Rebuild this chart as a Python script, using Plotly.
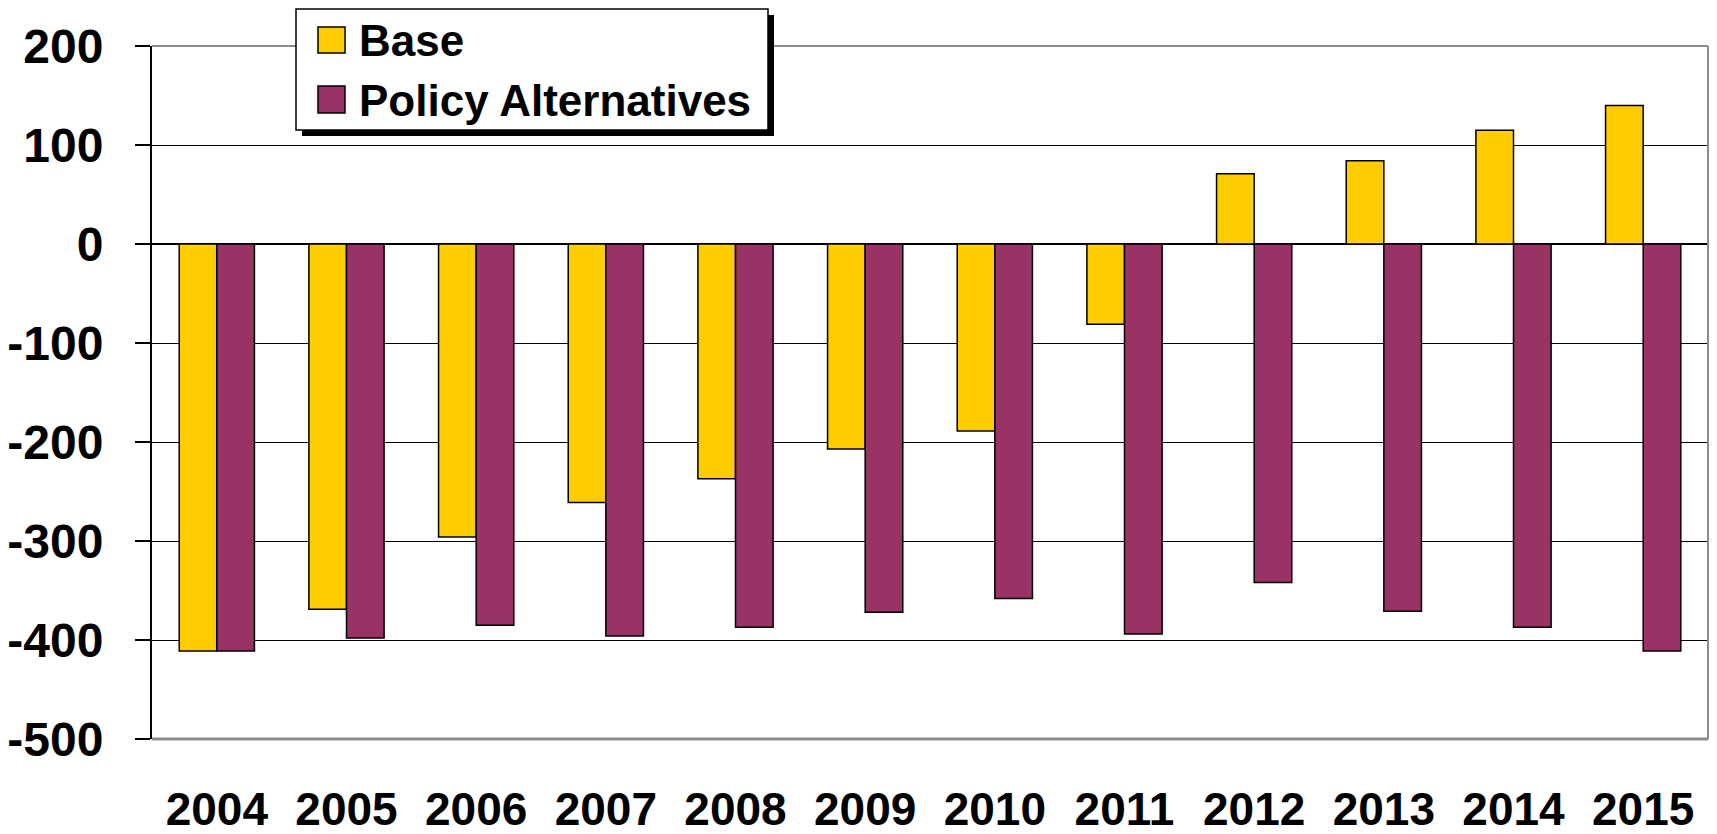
import plotly.graph_objects as go

years = ["2004", "2005", "2006", "2007", "2008", "2009", "2010", "2011", "2012", "2013", "2014", "2015"]
base = [-411, -369, -296, -261, -237, -207, -189, -81, 71, 84, 115, 140]
policy = [-411, -398, -385, -396, -387, -372, -358, -394, -342, -371, -387, -411]
series_names = ["Base", "Policy Alternatives"]
colors = ["#FFCC00", "#993366"]
y_ticks = [200, 100, 0, -100, -200, -300, -400, -500]

W, H = 1717, 834
L, R, T, B = 152, 9, 46, 95
pw, ph = W - L - R, H - T - B

def px(x):
    return (x - L) / pw

def py(y):
    return (H - B - y) / ph

fig = go.Figure()
for name, vals, col in zip(series_names, [base, policy], colors):
    fig.add_trace(go.Bar(
        x=years, y=vals, name=name, showlegend=False,
        marker=dict(color=col, line=dict(color="black", width=1.5)),
    ))

font_family = "Liberation Sans, Arial, sans-serif"

fig.update_layout(
    width=W, height=H,
    margin=dict(l=L, r=R, t=T, b=B, pad=0, autoexpand=False),
    paper_bgcolor="white", plot_bgcolor="white",
    barmode="group", bargap=0.42, bargroupgap=0,
    xaxis=dict(
        type="category", showgrid=False, zeroline=False, showline=False,
        ticks="", ticklabelstandoff=39, automargin=False,
        tickfont=dict(family=font_family, size=46, color="black", weight="bold"),
    ),
    yaxis=dict(
        range=[-500, 200], tickvals=y_ticks, ticktext=[str(v) for v in y_ticks],
        showgrid=True, gridcolor="black", gridwidth=1, automargin=False,
        zeroline=True, zerolinecolor="black", zerolinewidth=1.5,
        showline=True, linecolor="black", linewidth=2,
        ticks="outside", ticklen=15, tickcolor="black", tickwidth=1.5,
        ticklabelstandoff=22,
        tickfont=dict(family=font_family, size=48, color="black", weight="bold"),
    ),
)

shapes = []
# plot border (top, right, bottom) in gray
shapes.append(dict(type="line", xref="paper", yref="paper", x0=0, x1=1, y0=1, y1=1,
                   line=dict(color="#8c8c8c", width=2), layer="above"))
shapes.append(dict(type="line", xref="paper", yref="paper", x0=1, x1=1, y0=0, y1=1,
                   line=dict(color="#8c8c8c", width=2), layer="above"))
shapes.append(dict(type="line", xref="paper", yref="paper", x0=0, x1=1, y0=0, y1=0,
                   line=dict(color="#8c8c8c", width=3), layer="above"))
# legend shadow and box
shapes.append(dict(type="rect", xref="paper", yref="paper",
                   x0=px(302), x1=px(774), y0=py(136), y1=py(15),
                   fillcolor="black", line=dict(width=0), layer="above"))
shapes.append(dict(type="rect", xref="paper", yref="paper",
                   x0=px(296), x1=px(768), y0=py(130), y1=py(9),
                   fillcolor="white", line=dict(color="black", width=1.5), layer="above"))
# legend swatches
sw = [(27, 53), (86, 113)]
for (t0, t1), col in zip(sw, colors):
    shapes.append(dict(type="rect", xref="paper", yref="paper",
                       x0=px(318), x1=px(345), y0=py(t1), y1=py(t0),
                       fillcolor=col, line=dict(color="black", width=1.5), layer="above"))
fig.update_layout(shapes=shapes)

text_y = [41, 100]
for name, ty in zip(series_names, text_y):
    fig.add_annotation(
        xref="paper", yref="paper", x=px(357), y=py(ty),
        xanchor="left", yanchor="middle", showarrow=False, text=name,
        font=dict(family=font_family, size=44, color="black", weight="bold"),
    )

fig.write_html("out.html", config={"displayModeBar": False},
               post_script="document.body.style.margin='0';document.body.style.overflow='hidden';")
